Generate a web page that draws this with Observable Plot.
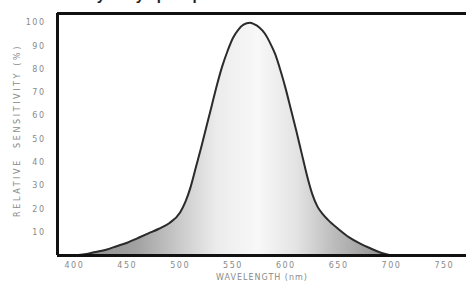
<!DOCTYPE html>
<html><head><meta charset="utf-8">
<script src="https://cdn.jsdelivr.net/npm/d3@7"></script>
<script src="https://cdn.jsdelivr.net/npm/@observablehq/plot@0.6"></script>
<style>
html,body{margin:0;padding:0;background:#fff;overflow:hidden;width:466px;height:284px}
#wrap{position:relative;width:466px;height:284px;overflow:hidden}
#title{position:absolute;left:30px;top:-14px;font:bold 15px "Liberation Sans",Arial,sans-serif;color:#222;white-space:nowrap}
#chart{position:absolute;left:0;top:0}
</style></head><body>
<div id="wrap"><div id="title">Sensitivity of eye per spectrum</div><div id="chart"></div></div>
<script>
const wavelength = [400, 410, 420, 430, 440, 450, 460, 470, 480, 490, 500, 505, 510, 515, 520, 525, 530, 535, 540, 545, 550, 555, 560, 566, 570, 575, 580, 585, 590, 595, 600, 605, 610, 615, 620, 625, 630, 635, 640, 650, 660, 670, 680, 690, 700];
const sensitivity = [0, 0.5, 1.5, 2.5, 4, 5.5, 7.5, 9.5, 11.5, 14, 18.5, 23, 29.5, 38, 46.5, 55.5, 64.5, 73.5, 81.5, 88, 93.5, 97, 99.2, 100, 99.4, 98, 95.5, 91.5, 86.5, 79.5, 71.5, 62.5, 53.5, 44, 34.5, 26.5, 21, 17.8, 15.3, 11.3, 7.8, 5.2, 3.1, 1.2, 0];
const xTicks = [400, 450, 500, 550, 600, 650, 700, 750];
const yTicks = [10, 20, 30, 40, 50, 60, 70, 80, 90, 100];
const xDomain = [384, 771];
const yDomain = [0, 104];
const xLabel = "WAVELENGTH (nm)";
const yLabel = "RELATIVE  SENSITIVITY (%)";

const data = wavelength.map((w, i) => ({w, s: sensitivity[i]}));

const plot = Plot.plot({
  width: 466, height: 284,
  marginLeft: 57, marginRight: 0, marginTop: 13, marginBottom: 29,
  style: {background: "transparent", fontFamily: "'DejaVu Sans', sans-serif", fontSize: "8px", color: "#8a8a8a"},
  x: {domain: xDomain, ticks: xTicks, tickSize: 0, tickPadding: 7, label: null},
  y: {domain: yDomain, ticks: yTicks, tickSize: 0, tickPadding: 12, label: null},
  marks: [
    Plot.areaY(data, {x: "w", y: "s", curve: "monotone-x", fill: "url(#fillGrad)"}),
    Plot.line(data, {x: "w", y: "s", curve: "monotone-x", stroke: "#2b2b2b", strokeWidth: 2}),
    Plot.ruleY([yDomain[0]], {stroke: "#111", strokeWidth: 3}),
    Plot.ruleY([yDomain[1]], {stroke: "#111", strokeWidth: 3}),
    Plot.ruleX([xDomain[0]], {stroke: "#111", strokeWidth: 3}),
    Plot.text([xLabel], {frameAnchor: "bottom", dy: 24, fill: "#8a8a8a", fontSize: 8, className: "xl"}),
    Plot.text([yLabel], {frameAnchor: "left", textAnchor: "middle", rotate: -90, dx: -40, dy: -4, fill: "#8a8a8a", fontSize: 8, className: "yl"})
  ]
});

const svg = d3.select(plot);
const defs = svg.insert("defs", ":first-child");
const g = defs.append("linearGradient").attr("id", "fillGrad")
  .attr("x1", 0).attr("y1", 0).attr("x2", 1).attr("y2", 0);
[[0, "#8a8a8a"], [0.2, "#a2a2a2"], [0.35, "#cfcfcf"], [0.45, "#ececec"], [0.58, "#f8f8f8"], [0.7, "#e4e4e4"], [0.82, "#bcbcbc"], [1, "#8c8c8c"]]
  .forEach(([o, c]) => g.append("stop").attr("offset", o).attr("stop-color", c));
svg.selectAll("g[aria-label='x-axis tick label'] text, g[aria-label='y-axis tick label'] text").attr("letter-spacing", 1.5);
svg.selectAll(".xl text").attr("letter-spacing", 1);
svg.selectAll(".yl text").attr("letter-spacing", 2.6);
document.getElementById("chart").appendChild(plot);
</script>
</body></html>
